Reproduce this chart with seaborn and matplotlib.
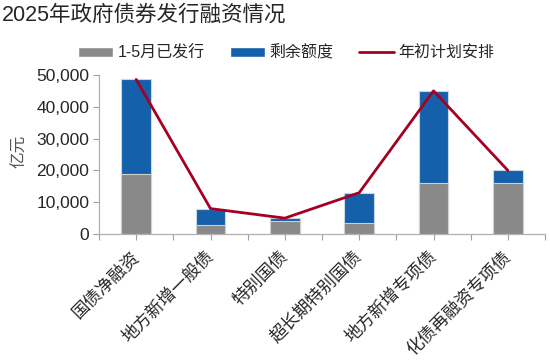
import numpy as np
import pandas as pd
import matplotlib
matplotlib.use('Agg')
import matplotlib.pyplot as plt
import seaborn as sns
from matplotlib.patches import Patch
from matplotlib.lines import Line2D
from matplotlib.ticker import FuncFormatter, FixedLocator

# 数据（亿元）
categories = ['国债净融资', '地方新增一般债', '特别国债', '超长期特别国债', '地方新增专项债', '化债再融资专项债']
issued = [19000, 3000, 4000, 3500, 16000, 16200]      # 1-5月已发行
remaining = [29600, 5000, 1000, 9500, 29000, 3800]    # 剩余额度
plan = [48600, 8000, 5000, 13000, 45000, 20000]       # 年初计划安排

c_gray = '#898989'
c_blue = '#1560ab'
c_red = '#a50021'

sns.set_style('white')
plt.rcParams['font.family'] = ['Liberation Sans', 'Noto Sans CJK SC', 'DejaVu Sans']
plt.rcParams['axes.unicode_minus'] = False

df = pd.DataFrame({'cat': categories, 'issued': issued, 'remaining': remaining, 'plan': plan})
df['total'] = df['issued'] + df['remaining']

fig = plt.figure(figsize=(5.5, 3.64), dpi=100)
ax = fig.add_axes([0.18, 0.357, 0.811, 0.437])

# 堆叠柱：先画总额(蓝)，再叠已发行(灰)
sns.barplot(data=df, x='cat', y='total', color=c_blue, width=0.4, saturation=1,
            edgecolor='#c9d6e6', linewidth=0.8, ax=ax)
sns.barplot(data=df, x='cat', y='issued', color=c_gray, width=0.4, saturation=1,
            edgecolor='#d0d0d0', linewidth=0.8, ax=ax)
sns.lineplot(data=df, x='cat', y='plan', color=c_red, linewidth=2, sort=False, ax=ax)

ax.set_xlim(-0.5, len(categories) - 0.5)
ax.set_ylim(0, 50000)
ax.yaxis.set_major_locator(FixedLocator(range(0, 50001, 10000)))
ax.yaxis.set_major_formatter(FuncFormatter(lambda v, p: f'{int(v):,}'))
ax.tick_params(axis='y', labelsize=12.5, length=4, width=0.8, color='#a0a0a0', direction='out', left=True, pad=3)
ax.xaxis.set_minor_locator(FixedLocator(np.arange(-0.5, len(categories), 1.0)))
ax.tick_params(axis='x', which='both', length=4, width=0.8, color='#a0a0a0', direction='out', bottom=True, pad=10)
ax.set_xticks(range(len(categories)))
ax.set_xticklabels(categories, rotation=45, ha='right', va='center', rotation_mode='anchor', fontsize=12.5)

for s in ['top', 'right']:
    ax.spines[s].set_visible(False)
for s in ['left', 'bottom']:
    ax.spines[s].set_color('#b0b0b0')
    ax.spines[s].set_linewidth(0.9)

ax.set_xlabel('')
ax.set_ylabel('亿元', fontsize=12, color='#555555', labelpad=2)
ax.yaxis.set_label_coords(-0.16, 0.52)

handles = [Patch(facecolor=c_gray, label='1-5月已发行'),
           Patch(facecolor=c_blue, label='剩余额度'),
           Line2D([0], [0], color=c_red, linewidth=2, label='年初计划安排')]
fig.legend(handles=handles, loc='center', bbox_to_anchor=(0.52, 0.855), ncol=3, frameon=False,
           fontsize=11.5, handlelength=2.2, handleheight=0.6, handletextpad=0.25, columnspacing=1.6)

fig.text(0.004, 0.958, '2025年政府债券发行融资情况', fontsize=15.5, va='center', ha='left')

fig.savefig('out.png', dpi=100)
